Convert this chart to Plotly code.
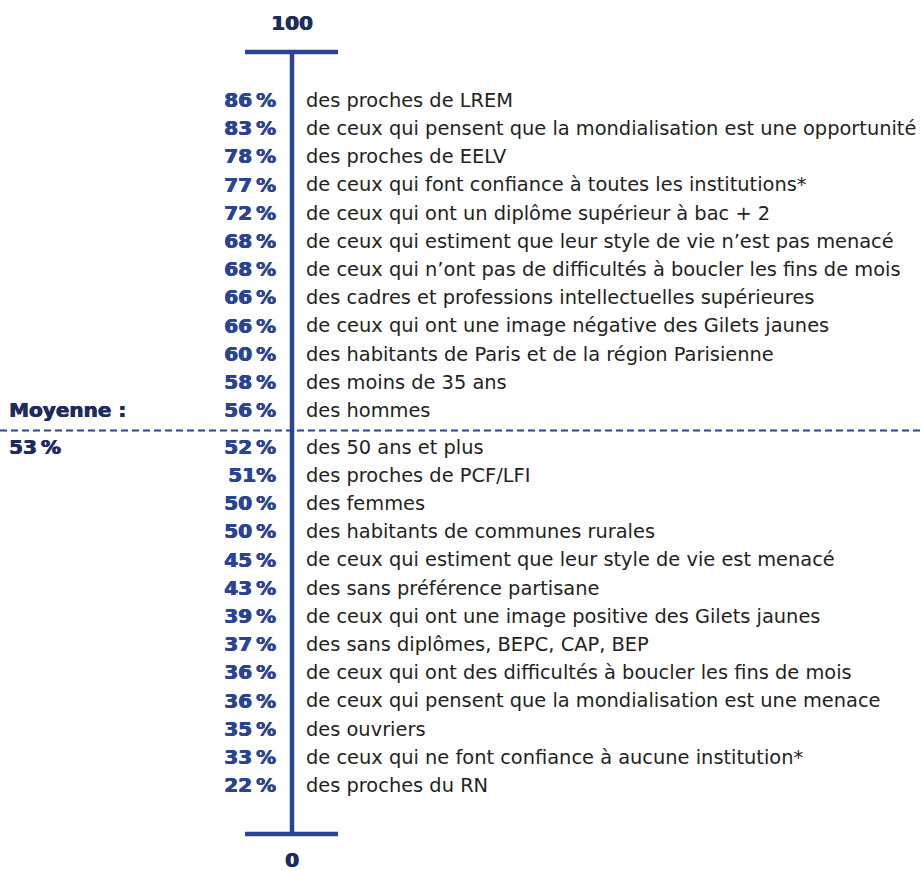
import plotly.graph_objects as go

# Share (%) for each population group, ordered from highest to lowest
values = [86, 83, 78, 77, 72, 68, 68, 66, 66, 60, 58, 56,
          52, 51, 50, 50, 45, 43, 39, 37, 36, 36, 35, 33, 22]

groups = [
    "des proches de LREM",
    "de ceux qui pensent que la mondialisation est une opportunité",
    "des proches de EELV",
    "de ceux qui font confiance à toutes les institutions*",
    "de ceux qui ont un diplôme supérieur à bac + 2",
    "de ceux qui estiment que leur style de vie n’est pas menacé",
    "de ceux qui n’ont pas de difficultés à boucler les fins de mois",
    "des cadres et professions intellectuelles supérieures",
    "de ceux qui ont une image négative des Gilets jaunes",
    "des habitants de Paris et de la région Parisienne",
    "des moins de 35 ans",
    "des hommes",
    "des 50 ans et plus",
    "des proches de PCF/LFI",
    "des femmes",
    "des habitants de communes rurales",
    "de ceux qui estiment que leur style de vie est menacé",
    "des sans préférence partisane",
    "de ceux qui ont une image positive des Gilets jaunes",
    "des sans diplômes, BEPC, CAP, BEP",
    "de ceux qui ont des difficultés à boucler les fins de mois",
    "de ceux qui pensent que la mondialisation est une menace",
    "des ouvriers",
    "de ceux qui ne font confiance à aucune institution*",
    "des proches du RN",
]

average = 53
scale_top = "100"
scale_bottom = "0"

BLUE = "#2a4393"
NAVY = "#1e2b5f"
TEXT = "#231f20"
BOLD_FONT = "DejaVu Sans"
BODY_FONT = "DejaVu Sans"

# Row layout: one row per group, with a small gap where the average falls
above = [v for v in values if v > average]
gap = 0.30
rows = [i if v > average else i + gap for i, v in enumerate(values)]
avg_row = len(above) - 1 + (1 + gap) / 2

def pct(v):
    return f"{v}%" if v == 51 else f"{v}\u2009%"

def heavy(color):
    # slight horizontal smear to make the bold face look heavier
    return f"0.6px 0 0 {color}, -0.3px 0 0 {color}"

AXIS_X = 292
fig = go.Figure()

# main vertical scale
fig.add_trace(go.Scatter(x=[AXIS_X, AXIS_X], y=[-1.77, 25.96], mode="lines",
                         line=dict(color=BLUE, width=4.5), hoverinfo="skip"))
# end caps of the scale
for yy in (-1.77, 25.96):
    fig.add_trace(go.Scatter(x=[245, 338], y=[yy, yy], mode="lines",
                             line=dict(color=BLUE, width=4.5), hoverinfo="skip"))

# dashed average line across the whole width
fig.add_shape(type="line", xref="x", yref="y", x0=0, x1=922, y0=avg_row, y1=avg_row,
              line=dict(color=BLUE, width=2, dash="7px,4px"))

# scale end labels
fig.add_trace(go.Scatter(x=[AXIS_X, AXIS_X], y=[-2.73, 26.95], mode="text",
                         text=[f"<b>{scale_top}</b>", f"<b>{scale_bottom}</b>"],
                         textposition="middle center",
                         textfont=dict(family=BOLD_FONT, size=20, color=NAVY,
                                       shadow=heavy(NAVY)),
                         hoverinfo="skip"))

# percentages
fig.add_trace(go.Scatter(x=[276] * len(values), y=rows, mode="text",
                         text=[f"<b>{pct(v)}</b>" for v in values],
                         textposition="middle left",
                         textfont=dict(family=BOLD_FONT, size=20, color=BLUE,
                                       shadow=heavy(BLUE)),
                         hoverinfo="skip"))

# group descriptions
fig.add_trace(go.Scatter(x=[306] * len(groups), y=rows, mode="text",
                         text=groups, textposition="middle right",
                         textfont=dict(family=BODY_FONT, size=19.4, color=TEXT),
                         hoverinfo="skip"))

# average label
fig.add_trace(go.Scatter(x=[9, 9], y=[len(above) - 1, 12.3], mode="text",
                         text=["<b>Moyenne :</b>", f"<b>{average}\u2009%</b>"],
                         textposition="middle right",
                         textfont=dict(family=BOLD_FONT, size=20, color=NAVY,
                                       shadow=heavy(NAVY)),
                         hoverinfo="skip"))

fig.update_layout(
    width=922, height=871,
    margin=dict(l=0, r=0, t=0, b=0),
    paper_bgcolor="white", plot_bgcolor="white",
    showlegend=False,
    xaxis=dict(range=[0, 922], visible=False, fixedrange=True),
    yaxis=dict(range=[27.27, -3.617], visible=False, fixedrange=True),
)

fig.write_html("out.html")
